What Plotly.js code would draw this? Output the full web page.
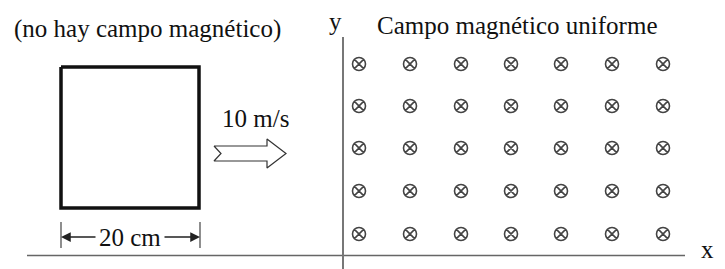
<!DOCTYPE html>
<html>
<head>
<meta charset="utf-8">
<script src="https://cdn.plot.ly/plotly-3.0.1.min.js"></script>
<style>html,body{margin:0;padding:0;background:#fff;}#chart{width:725px;height:269px;}</style>
</head>
<body>
<div id="chart"></div>
<script>
// ---- diagram data (diagram units) ----
const loopX = [61, 199, 199, 61, 61];
const loopY = [67, 67, 208, 208, 67];
const fieldCols = [359, 410, 461, 511, 561, 612, 663];
const fieldRows = [64, 106, 148, 191, 234];
const arrowX = [214, 267, 267, 286, 267, 267, 214, 221, 214];
const arrowY = [146, 146, 139, 153.5, 168, 161, 161, 153.5, 146];
const baseLineX = [27, 685];
const baseLineY = [255.5, 255.5];
const yAxisX = [343, 343];
const yAxisY = [37, 269];
const dimTicksX = [61, 61, null, 200, 200];
const dimTicksY = [222, 248, null, 222, 248];
const labels = [
  {text: '(no hay campo magnético)', x: 147, y: 29},
  {text: 'Campo magnético uniforme', x: 517, y: 25},
  {text: '10 m/s', x: 255, y: 118},
  {text: '20 cm', x: 130, y: 237},
  {text: 'y', x: 335, y: 21},
  {text: 'x', x: 707, y: 249}
];

const fx = [], fy = [];
fieldRows.forEach(r => fieldCols.forEach(c => { fx.push(c); fy.push(r); }));

const traces = [
  {x: baseLineX, y: baseLineY, mode: 'lines', line: {color: '#666', width: 1.5}, hoverinfo: 'skip'},
  {x: yAxisX, y: yAxisY, mode: 'lines', line: {color: '#777', width: 2}, hoverinfo: 'skip'},
  {x: loopX, y: loopY, mode: 'lines', line: {color: '#111', width: 3.5}, hoverinfo: 'skip'},
  {x: dimTicksX, y: dimTicksY, mode: 'lines', line: {color: '#444', width: 1.2}, connectgaps: false, hoverinfo: 'skip'},
  {x: arrowX, y: arrowY, mode: 'lines', fill: 'toself', fillcolor: '#fff', line: {color: '#333', width: 1.2}, hoverinfo: 'skip'},
  {x: fx, y: fy, mode: 'markers', marker: {symbol: 'circle-x-open', size: 13, color: '#444', line: {width: 1.6, color: '#444'}}, hoverinfo: 'skip'}
];

const serif = 'Liberation Serif';
const annotations = labels.map(l => ({
  text: l.text, x: l.x, y: l.y, xref: 'x', yref: 'y', showarrow: false,
  xanchor: 'center', yanchor: 'middle',
  font: {family: serif, size: 25, color: '#111'}
}));
annotations.push({x: 61, y: 237, ax: 97, ay: 237, axref: 'x', ayref: 'y', xref: 'x', yref: 'y',
  showarrow: true, arrowhead: 2, arrowsize: 1.3, arrowwidth: 1.5, arrowcolor: '#222', text: ''});
annotations.push({x: 200, y: 237, ax: 163, ay: 237, axref: 'x', ayref: 'y', xref: 'x', yref: 'y',
  showarrow: true, arrowhead: 2, arrowsize: 1.3, arrowwidth: 1.5, arrowcolor: '#222', text: ''});

const layout = {
  width: 725, height: 269,
  margin: {l: 0, r: 0, t: 0, b: 0},
  paper_bgcolor: '#fff', plot_bgcolor: '#fff',
  showlegend: false,
  font: {family: serif},
  xaxis: {range: [0, 725], visible: false, fixedrange: true},
  yaxis: {range: [269, 0], visible: false, fixedrange: true},
  annotations: annotations
};

Plotly.newPlot('chart', traces, layout, {staticPlot: true, displayModeBar: false});
</script>
</body>
</html>
